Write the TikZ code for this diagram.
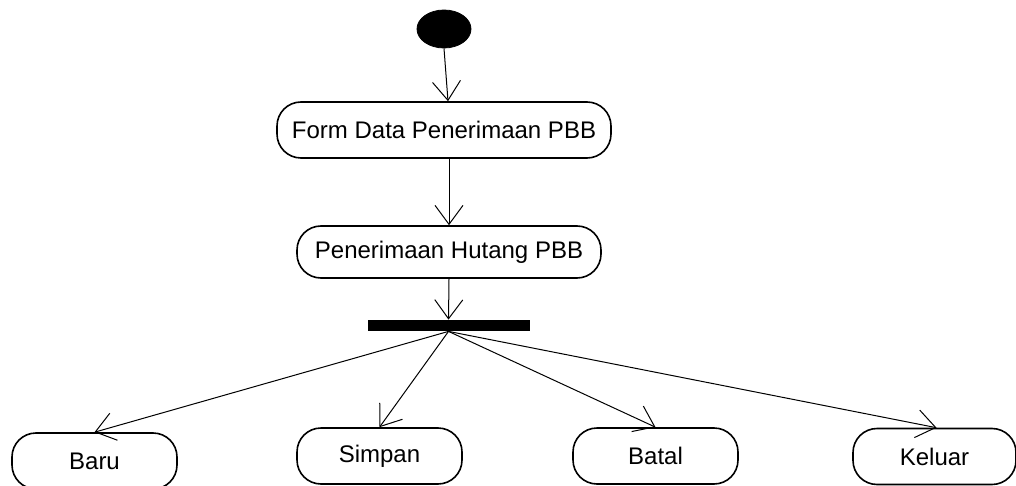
\documentclass[tikz,border=0pt]{standalone}
\usepackage{fontspec}
\setmainfont{Liberation Sans}
\usetikzlibrary{shapes.geometric,arrows.meta}
\begin{document}
\begin{tikzpicture}[x=0.5pt,y=-0.5pt,
  act/.style={draw,line width=0.8pt,rounded corners=12pt,inner sep=0pt,font=\fontsize{12}{14}\selectfont},
  bot/.style={act,minimum width=82.5pt,minimum height=28pt},
  conn/.style={line width=0.5pt,-{Straight Barb[length=9.5pt,width=14pt,line width=0.5pt]}},
  plain/.style={line width=0.5pt}]
\useasboundingbox (0,0) rectangle (1016,486);
\node[ellipse,fill=black,draw,inner sep=0pt,minimum width=27pt,minimum height=19pt] (start) at (444,29) {};
\node[act,minimum width=167pt,minimum height=28pt] (form) at (444,130) {Form Data Penerimaan PBB};
\node[act,minimum width=152pt,minimum height=26pt] (pen) at (449,252) {Penerimaan Hutang PBB};
\node[fill=black,inner sep=0pt,minimum width=81pt,minimum height=5.5pt] (bar) at (448.5,325.5) {};
\node[bot] (baru) at (94.5,461) {\raisebox{-1.5pt}{Baru}};
\node[bot] (simpan) at (379.5,456) {Simpan};
\node[bot] (batal) at (655.5,456) {Batal};
\node[bot,minimum width=81.5pt] (keluar) at (934.5,456.5) {Keluar};
\draw[conn] (start.south) -- ([xshift=2pt]form.north);
\draw[conn] ([xshift=2.5pt]form.south) -- (pen.north);
\draw[conn] (pen.south) -- (bar.north);
\draw[conn] (bar.south) -- (baru.north);
\draw[conn] (bar.south) -- (simpan.north);
\draw[conn] (bar.south) -- (batal.north);
\draw[conn] (bar.south) -- ([xshift=1pt]keluar.north);
\end{tikzpicture}
\end{document}
